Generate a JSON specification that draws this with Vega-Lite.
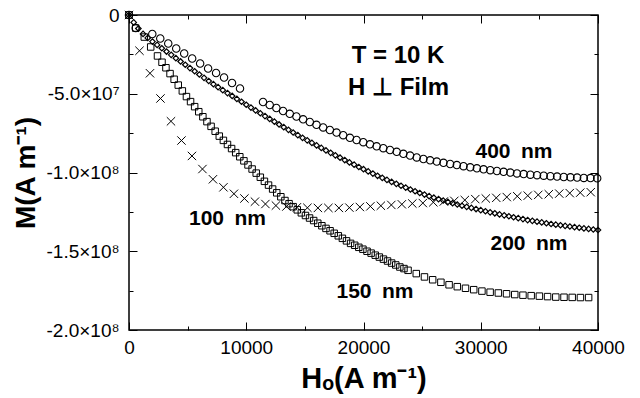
{
  "$schema": "https://vega.github.io/schema/vega-lite/v6.json",
  "width": 469,
  "height": 315,
  "autosize": {"type": "none"},
  "padding": {"left": 129, "top": 15, "right": 42, "bottom": 68},
  "background": "white",
  "config": {"view": {"stroke": "black", "strokeWidth": 1.5}, "font": "Liberation Sans"},
  "datasets": {
    "c400": [
      {"x":0,"y":0},{"x":571,"y":-0.83},
      {"x":1987,"y":-1.206},{"x":2667,"y":-1.492},{"x":3347,"y":-1.810},{"x":4027,"y":-2.127},{"x":4707,"y":-2.444},{"x":5387,"y":-2.762},{"x":6067,"y":-3.079},{"x":6747,"y":-3.397},{"x":7427,"y":-3.683},{"x":8107,"y":-3.968},{"x":8787,"y":-4.317},{"x":9467,"y":-4.667},
      {"x":11430,"y":-5.524},{"x":12000,"y":-5.714},{"x":12570,"y":-5.905},{"x":13140,"y":-6.095},{"x":13710,"y":-6.273},{"x":14280,"y":-6.444},{"x":14850,"y":-6.622},{"x":15420,"y":-6.794},{"x":15990,"y":-6.971},{"x":16560,"y":-7.137},{"x":17130,"y":-7.302},{"x":17700,"y":-7.467},{"x":18270,"y":-7.632},{"x":18840,"y":-7.797},{"x":19410,"y":-7.937},{"x":19980,"y":-8.076},{"x":20550,"y":-8.210},{"x":21120,"y":-8.337},{"x":21690,"y":-8.457},{"x":22260,"y":-8.571},{"x":22830,"y":-8.686},{"x":23400,"y":-8.813},{"x":23970,"y":-8.927},{"x":24540,"y":-9.041},{"x":25110,"y":-9.143},{"x":25680,"y":-9.225},{"x":26250,"y":-9.308},{"x":26820,"y":-9.384},{"x":27390,"y":-9.460},{"x":27960,"y":-9.530},{"x":28530,"y":-9.600},{"x":29100,"y":-9.670},{"x":29670,"y":-9.733},{"x":30240,"y":-9.797},{"x":30810,"y":-9.854},{"x":31380,"y":-9.905},{"x":31950,"y":-9.956},{"x":32520,"y":-10.006},{"x":33090,"y":-10.057},{"x":33660,"y":-10.102},{"x":34230,"y":-10.140},{"x":34800,"y":-10.171},{"x":35370,"y":-10.203},{"x":35940,"y":-10.235},{"x":36510,"y":-10.260},{"x":37080,"y":-10.286},{"x":37650,"y":-10.305},{"x":38220,"y":-10.324},{"x":38790,"y":-10.343},{"x":39360,"y":-10.356},{"x":39930,"y":-10.368}
    ],
    "d200": [
      {"x":0,"y":0},{"x":400,"y":-0.47},{"x":800,"y":-0.86},{"x":1200,"y":-1.20},{"x":1600,"y":-1.455},{"x":2000,"y":-1.69},{"x":2400,"y":-1.90},{"x":2800,"y":-2.11},{"x":3200,"y":-2.32},{"x":3600,"y":-2.53},
      {"x":4000,"y":-2.74},{"x":4400,"y":-2.95},{"x":4800,"y":-3.16},{"x":5200,"y":-3.37},{"x":5600,"y":-3.57},{"x":6000,"y":-3.78},{"x":6400,"y":-3.99},{"x":6800,"y":-4.19},{"x":7200,"y":-4.39},{"x":7600,"y":-4.58},
      {"x":8000,"y":-4.77},{"x":8400,"y":-4.96},{"x":8800,"y":-5.14},{"x":9200,"y":-5.33},{"x":9600,"y":-5.51},{"x":10000,"y":-5.70},{"x":10400,"y":-5.88},{"x":10800,"y":-6.06},{"x":11200,"y":-6.24},{"x":11600,"y":-6.42},
      {"x":12000,"y":-6.60},{"x":12400,"y":-6.77},{"x":12800,"y":-6.95},{"x":13200,"y":-7.12},{"x":13600,"y":-7.29},{"x":14000,"y":-7.46},{"x":14400,"y":-7.63},{"x":14800,"y":-7.80},{"x":15200,"y":-7.96},{"x":15600,"y":-8.12},
      {"x":16000,"y":-8.28},{"x":16400,"y":-8.44},{"x":16800,"y":-8.60},{"x":17200,"y":-8.75},{"x":17600,"y":-8.91},{"x":18000,"y":-9.06},{"x":18400,"y":-9.21},{"x":18800,"y":-9.36},{"x":19200,"y":-9.50},{"x":19600,"y":-9.65},
      {"x":20000,"y":-9.79},{"x":20400,"y":-9.93},{"x":20800,"y":-10.07},{"x":21200,"y":-10.21},{"x":21600,"y":-10.34},{"x":22000,"y":-10.47},{"x":22400,"y":-10.60},{"x":22800,"y":-10.72},{"x":23200,"y":-10.84},{"x":23600,"y":-10.96},
      {"x":24000,"y":-11.08},{"x":24400,"y":-11.19},{"x":24800,"y":-11.30},{"x":25200,"y":-11.40},{"x":25600,"y":-11.50},{"x":26000,"y":-11.60},{"x":26400,"y":-11.69},{"x":26800,"y":-11.78},{"x":27200,"y":-11.87},{"x":27600,"y":-11.95},
      {"x":28000,"y":-12.03},{"x":28400,"y":-12.11},{"x":28800,"y":-12.18},{"x":29200,"y":-12.25},{"x":29600,"y":-12.32},{"x":30000,"y":-12.39},{"x":30400,"y":-12.46},{"x":30800,"y":-12.53},{"x":31200,"y":-12.59},{"x":31600,"y":-12.66},
      {"x":32000,"y":-12.72},{"x":32400,"y":-12.78},{"x":32800,"y":-12.84},{"x":33200,"y":-12.90},{"x":33600,"y":-12.96},{"x":34000,"y":-13.02},{"x":34400,"y":-13.07},{"x":34800,"y":-13.12},{"x":35200,"y":-13.17},{"x":35600,"y":-13.22},
      {"x":36000,"y":-13.27},{"x":36400,"y":-13.31},{"x":36800,"y":-13.35},{"x":37200,"y":-13.39},{"x":37600,"y":-13.43},{"x":38000,"y":-13.47},{"x":38400,"y":-13.51},{"x":38800,"y":-13.55},{"x":39200,"y":-13.58},{"x":39600,"y":-13.62},{"x":40000,"y":-13.65}
    ],
    "s150": [
      {"x":0,"y":0},{"x":571,"y":-0.83},{"x":1305,"y":-1.40},{"x":1851,"y":-2.03},{"x":2431,"y":-2.60},{"x":2815,"y":-3.00},
      {"x":3150,"y":-3.35},{"x":3500,"y":-3.72},{"x":3850,"y":-4.08},{"x":4200,"y":-4.45},{"x":4550,"y":-4.82},{"x":4900,"y":-5.18},
      {"x":5250,"y":-5.50},{"x":5600,"y":-5.82},{"x":5950,"y":-6.14},{"x":6300,"y":-6.46},
      {"x":6650,"y":-6.77},{"x":7000,"y":-7.07},{"x":7350,"y":-7.38},{"x":7700,"y":-7.69},
      {"x":8050,"y":-7.96},{"x":8400,"y":-8.22},{"x":8750,"y":-8.48},{"x":9100,"y":-8.74},
      {"x":9450,"y":-9.00},{"x":9800,"y":-9.26},{"x":10150,"y":-9.52},{"x":10500,"y":-9.78},{"x":10850,"y":-10.04},{"x":11200,"y":-10.30},{"x":11550,"y":-10.56},
      {"x":11900,"y":-10.80},{"x":12250,"y":-11.05},{"x":12600,"y":-11.29},{"x":12950,"y":-11.54},
      {"x":13300,"y":-11.78},{"x":13650,"y":-11.98},{"x":14000,"y":-12.17},{"x":14350,"y":-12.37},
      {"x":14700,"y":-12.56},{"x":15050,"y":-12.73},{"x":15400,"y":-12.89},{"x":15750,"y":-13.05},{"x":16100,"y":-13.22},{"x":16450,"y":-13.38},{"x":16800,"y":-13.55},
      {"x":17150,"y":-13.70},{"x":17500,"y":-13.86},{"x":17850,"y":-14.02},{"x":18200,"y":-14.18},{"x":18550,"y":-14.34},{"x":18900,"y":-14.50},
      {"x":19250,"y":-14.62},{"x":19600,"y":-14.75},{"x":19950,"y":-14.87},{"x":20300,"y":-15.00},{"x":20650,"y":-15.12},{"x":21000,"y":-15.25},{"x":21350,"y":-15.37},{"x":21700,"y":-15.50},{"x":22050,"y":-15.62},{"x":22400,"y":-15.75},{"x":22750,"y":-15.87},{"x":23100,"y":-16.00},
      {"x":23450,"y":-16.10},{"x":23800,"y":-16.21},
      {"x":24500,"y":-16.42},{"x":25200,"y":-16.63},{"x":25900,"y":-16.81},{"x":26600,"y":-16.97},{"x":27300,"y":-17.13},{"x":28000,"y":-17.25},{"x":28700,"y":-17.35},{"x":29400,"y":-17.44},{"x":30100,"y":-17.53},{"x":30800,"y":-17.60},{"x":31500,"y":-17.65},{"x":32200,"y":-17.70},{"x":32900,"y":-17.75},{"x":33600,"y":-17.79},{"x":34300,"y":-17.82},{"x":35000,"y":-17.85},{"x":35700,"y":-17.88},{"x":36400,"y":-17.91},{"x":37100,"y":-17.92},{"x":37800,"y":-17.93},{"x":38500,"y":-17.94},{"x":39200,"y":-17.94}
    ],
    "x100": [
      {"x":0,"y":0},{"x":895,"y":-2.27},{"x":1790,"y":-3.70},{"x":2685,"y":-5.30},{"x":3580,"y":-6.75},{"x":4475,"y":-7.97},{"x":5370,"y":-8.95},{"x":6265,"y":-9.78},{"x":7160,"y":-10.43},{"x":8055,"y":-10.94},
      {"x":8950,"y":-11.35},{"x":9845,"y":-11.65},{"x":10740,"y":-11.85},{"x":11635,"y":-12.00},{"x":12530,"y":-12.10},{"x":13425,"y":-12.16},{"x":14320,"y":-12.21},{"x":15215,"y":-12.24},{"x":16110,"y":-12.25},{"x":17005,"y":-12.25},
      {"x":17900,"y":-12.25},{"x":18795,"y":-12.23},{"x":19690,"y":-12.19},{"x":20585,"y":-12.15},{"x":21480,"y":-12.11},{"x":22375,"y":-12.06},{"x":23270,"y":-12.02},{"x":24165,"y":-11.97},{"x":25060,"y":-11.94},{"x":25955,"y":-11.89},
      {"x":26850,"y":-11.84},{"x":27745,"y":-11.80},{"x":28640,"y":-11.75},{"x":29535,"y":-11.69},{"x":30430,"y":-11.65},{"x":31325,"y":-11.61},{"x":32220,"y":-11.56},{"x":33115,"y":-11.51},{"x":34010,"y":-11.47},{"x":34905,"y":-11.42},
      {"x":35800,"y":-11.38},{"x":36695,"y":-11.34},{"x":37590,"y":-11.31},{"x":38485,"y":-11.28},{"x":39380,"y":-11.25}
    ],
    "ann1": [
      {"x":22943,"y":-3.05,"t":"T = 10 K"},
      {"x":22986,"y":-5.08,"t":"H ⊥ Film"}
    ],
    "ann2": [
      {"x":32837,"y":-9.08,"t":"400\u2002nm"},
      {"x":34116,"y":-14.92,"t":"200\u2002nm"},
      {"x":8401,"y":-13.33,"t":"100\u2002nm"},
      {"x":20981,"y":-17.97,"t":"150\u2002nm"}
    ]
  },
  "resolve": {"axis": {"x": "independent", "y": "independent"}},
  "layer": [
    {
      "data": {"name": "c400"},
      "mark": {"type": "point", "shape": "circle", "size": 55, "filled": false, "stroke": "black", "strokeWidth": 1.1, "opacity": 1, "clip": false},
      "encoding": {
        "x": {"field": "x", "type": "quantitative", "scale": {"domain": [0, 40000], "nice": false, "zero": false},
          "axis": {"orient": "bottom", "values": [0,5000,10000,15000,20000,25000,30000,35000,40000],
            "tickSize": {"condition": {"test": "datum.value % 10000 === 0", "value": -8}, "value": -4},
            "labelExpr": "datum.value % 10000 === 0 ? format(datum.value, 'd') : ''",
            "labelFont": "Liberation Sans", "labelFontSize": 19, "labelColor": "black", "labelPadding": 16,
            "labelFlush": false, "labelOverlap": false, "domain": false, "grid": false, "tickColor": "black", "tickWidth": 1,
            "title": "Hₒ(A m⁻¹)", "titleFont": "Liberation Sans", "titleFontSize": 29, "titleFontWeight": "bold", "titleColor": "black", "titlePadding": 3}},
        "y": {"field": "y", "type": "quantitative", "scale": {"domain": [-20, 0], "nice": false, "zero": false},
          "axis": {"orient": "left", "values": [-20,-17.5,-15,-12.5,-10,-7.5,-5,-2.5,0],
            "tickSize": {"condition": {"test": "datum.value % 5 === 0", "value": -8}, "value": -4},
            "labelExpr": "datum.value === 0 ? '0' : datum.value === -5 ? '-5.0×10⁷' : datum.value === -10 ? '-1.0×10⁸' : datum.value === -15 ? '-1.5×10⁸' : datum.value === -20 ? '-2.0×10⁸' : ''",
            "labelFont": "Liberation Sans", "labelFontSize": 19, "labelColor": "black", "labelPadding": 18,
            "labelFlush": false, "labelOverlap": false, "domain": false, "grid": false, "tickColor": "black", "tickWidth": 1,
            "title": "M(A m⁻¹)", "titleFont": "Liberation Sans", "titleFontSize": 28, "titleFontWeight": "bold", "titleColor": "black", "titlePadding": 6}}
      }
    },
    {
      "data": {"name": "x100"},
      "mark": {"type": "point", "shape": "M-1,-1L1,1M1,-1L-1,1", "size": 70, "filled": false, "stroke": "black", "strokeWidth": 1, "opacity": 1, "clip": false},
      "encoding": {
        "x": {"field": "x", "type": "quantitative", "scale": {"domain": [0, 40000], "nice": false, "zero": false},
          "axis": {"orient": "top", "values": [0,5000,10000,15000,20000,25000,30000,35000,40000],
            "tickSize": {"condition": {"test": "datum.value % 10000 === 0", "value": -8}, "value": -4},
            "labels": false, "domain": false, "grid": false, "tickColor": "black", "tickWidth": 1, "title": null}},
        "y": {"field": "y", "type": "quantitative", "scale": {"domain": [-20, 0], "nice": false, "zero": false},
          "axis": {"orient": "right", "values": [-20,-17.5,-15,-12.5,-10,-7.5,-5,-2.5,0],
            "tickSize": {"condition": {"test": "datum.value % 5 === 0", "value": -8}, "value": -4},
            "labels": false, "domain": false, "grid": false, "tickColor": "black", "tickWidth": 1, "title": null}}
      }
    },
    {
      "data": {"name": "s150"},
      "mark": {"type": "point", "shape": "square", "size": 42, "filled": false, "stroke": "black", "strokeWidth": 1, "opacity": 1, "clip": false},
      "encoding": {
        "x": {"field": "x", "type": "quantitative", "scale": {"domain": [0, 40000], "nice": false, "zero": false}, "axis": null},
        "y": {"field": "y", "type": "quantitative", "scale": {"domain": [-20, 0], "nice": false, "zero": false}, "axis": null}
      }
    },
    {
      "data": {"name": "d200"},
      "mark": {"type": "point", "shape": "diamond", "size": 30, "filled": false, "stroke": "black", "strokeWidth": 1.2, "opacity": 1, "clip": false},
      "encoding": {
        "x": {"field": "x", "type": "quantitative", "scale": {"domain": [0, 40000], "nice": false, "zero": false}, "axis": null},
        "y": {"field": "y", "type": "quantitative", "scale": {"domain": [-20, 0], "nice": false, "zero": false}, "axis": null}
      }
    },
    {
      "data": {"name": "ann1"},
      "mark": {"type": "text", "align": "center", "baseline": "alphabetic", "font": "Liberation Sans", "fontSize": 24, "fontWeight": "bold", "color": "black"},
      "encoding": {
        "x": {"field": "x", "type": "quantitative", "scale": {"domain": [0, 40000], "nice": false, "zero": false}, "axis": null},
        "y": {"field": "y", "type": "quantitative", "scale": {"domain": [-20, 0], "nice": false, "zero": false}, "axis": null},
        "text": {"field": "t"}
      }
    },
    {
      "data": {"name": "ann2"},
      "mark": {"type": "text", "align": "center", "baseline": "alphabetic", "font": "Liberation Sans", "fontSize": 21, "fontWeight": "bold", "color": "black"},
      "encoding": {
        "x": {"field": "x", "type": "quantitative", "scale": {"domain": [0, 40000], "nice": false, "zero": false}, "axis": null},
        "y": {"field": "y", "type": "quantitative", "scale": {"domain": [-20, 0], "nice": false, "zero": false}, "axis": null},
        "text": {"field": "t"}
      }
    }
  ]
}
